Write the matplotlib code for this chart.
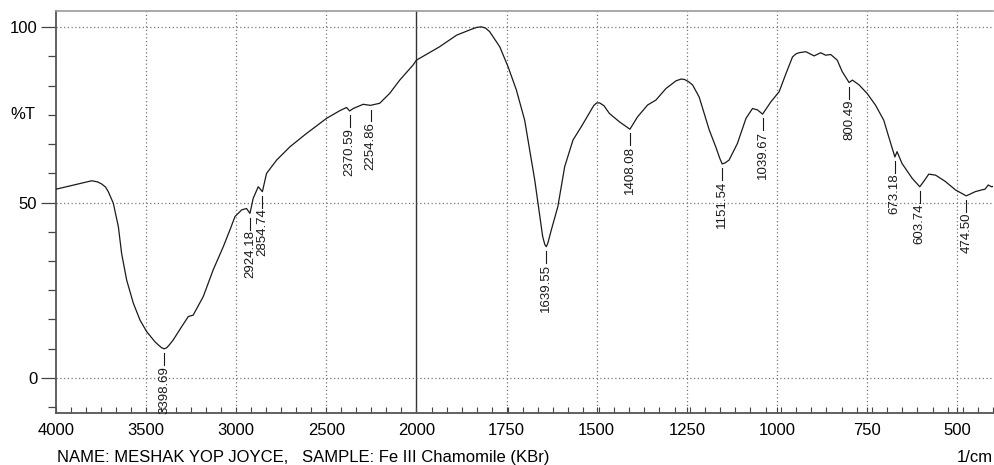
import numpy as np
import matplotlib
matplotlib.use("Agg")
import matplotlib.pyplot as plt

plt.rcParams["font.family"] = ["Liberation Sans", "DejaVu Sans"]

# Spectre IR (nombre d'onde en cm-1, transmittance en %)
wavenumber = [4000, 3802, 3770, 3747, 3725, 3710, 3695, 3682, 3654, 3636, 3608, 3571,
              3534, 3497, 3451, 3430, 3414, 3399, 3386, 3370, 3350, 3303, 3266, 3239,
              3183, 3128, 3072, 3035, 3007, 2970, 2943, 2924, 2906, 2878, 2855, 2832,
              2776, 2702, 2610, 2499, 2425, 2388, 2371, 2351, 2296, 2255, 2204, 2149,
              2093, 2019, 2000, 1936, 1889, 1850, 1834, 1820, 1808, 1797, 1769, 1746,
              1723, 1700, 1686, 1672, 1659, 1650, 1644, 1640, 1636, 1626, 1608, 1589,
              1566, 1543, 1520, 1508, 1500, 1492, 1480, 1465, 1437, 1408, 1387, 1359,
              1336, 1308, 1280, 1266, 1257, 1246, 1234, 1216, 1202, 1188, 1170, 1158,
              1152, 1144, 1133, 1110, 1086, 1068, 1054, 1040, 1017, 994, 975, 957, 947,
              939, 920, 897, 879, 865, 851, 833, 819, 800, 791, 773, 750, 727, 704,
              690, 673, 667, 653, 625, 604, 593, 579, 560, 533, 505, 475, 450, 432,
              423, 414, 405, 400]
transmittance = [53.8, 56.2, 55.9, 55.3, 54.4, 53.1, 51.3, 49.8, 43.1, 35.5, 27.9, 21.3,
                 16.5, 13.2, 10.3, 9.3, 8.6, 8.3, 8.6, 9.5, 10.8, 14.6, 17.5, 17.9,
                 23.2, 30.8, 37.4, 42.2, 46.0, 47.9, 48.3, 46.9, 51.2, 54.5, 53.1, 58.3,
                 62.1, 65.9, 69.7, 74.0, 76.2, 77.1, 76.1, 76.8, 78.0, 77.7, 78.3, 81.1,
                 84.9, 89.2, 90.6, 94.4, 97.7, 99.3, 99.9, 100.1, 99.7, 98.7, 94.4, 88.7,
                 82.1, 73.5, 65.0, 56.4, 46.9, 40.3, 38.0, 37.4, 38.3, 42.2, 48.8, 60.2,
                 67.8, 71.6, 75.6, 77.7, 78.4, 78.4, 77.6, 75.4, 73.0, 70.9, 74.4, 77.8,
                 79.2, 82.5, 84.7, 85.2, 85.1, 84.5, 83.5, 80.1, 75.4, 70.7, 65.9, 62.4,
                 61.0, 61.3, 62.1, 66.8, 74.0, 76.8, 76.4, 75.2, 78.7, 81.6, 86.8, 91.5, 92.4,
                 92.7, 93.0, 91.8, 92.7, 92.0, 92.2, 90.6, 87.3, 84.2, 84.9, 83.6, 81.1,
                 77.8, 73.5, 68.7, 63.0, 64.5, 61.1, 56.9, 54.5, 56.0, 58.1, 57.8, 56.0,
                 53.6, 51.9, 53.1, 53.6, 53.8, 55.0, 54.5, 54.6]

# Pics annotés
peak_labels = ["3398.69", "2924.18", "2854.74", "2370.59", "2254.86", "1639.55", "1408.08",
               "1151.54", "1039.67", "800.49", "673.18", "603.74", "474.50"]
peak_wn = [3398.69, 2924.18, 2854.74, 2370.59, 2254.86, 1639.55, 1408.08,
           1151.54, 1039.67, 800.49, 673.18, 603.74, 474.50]
peak_t = [8.3, 46.9, 53.1, 76.1, 77.7, 37.4, 70.9, 61.0, 75.2, 84.2, 63.0, 54.5, 51.9]

x_major = [4000, 3500, 3000, 2500, 2000, 1750, 1500, 1250, 1000, 750, 500]
y_major = [0, 50, 100]


# Échelle brisée à 2000 cm-1 : la partie basse est deux fois plus dilatée.
def _fwd(w):
    w = np.asarray(w, dtype=float)
    return np.where(w >= 2000, 2000 + (w - 2000) * 0.5, w)


def _inv(u):
    u = np.asarray(u, dtype=float)
    return np.where(u >= 2000, 2000 + (u - 2000) * 2.0, u)


fig = plt.figure(figsize=(9.94, 4.65), dpi=100)
ax = fig.add_axes([56 / 994, 52 / 465, 937.3 / 994, 402 / 465])
ax.set_xscale("function", functions=(_fwd, _inv))
ax.set_xlim(4000, 400)
ax.set_ylim(-10, 104.6)

ax.plot(wavenumber, transmittance, color="#1a1a1a", linewidth=0.9, zorder=3,
        solid_joinstyle="round")

# Grille pointillée + trait plein à la rupture d'échelle
for x in x_major[1:]:
    if x == 2000:
        ax.axvline(x, color="#333333", linewidth=1.0, zorder=1)
    else:
        ax.axvline(x, color="#777777", linewidth=0.9, linestyle=(0, (1, 2)), zorder=1)
for y in y_major:
    ax.axhline(y, color="#777777", linewidth=0.9, linestyle=(0, (1, 2)), zorder=1)

ax.set_xticks(x_major)
ax.set_xticklabels([str(x) for x in x_major])
minor_x = list(np.linspace(4000, 2000, 25)) + list(np.linspace(2000, 400, 39))
ax.set_xticks(minor_x, minor=True)
ax.tick_params(axis="x", which="both", direction="in", length=4, width=0.8,
               color="#444444", labelsize=12, pad=7.5)

ax.set_yticks(y_major)
ax.set_yticklabels([str(y) for y in y_major])
ax.set_yticks(np.arange(-100 / 12, 104, 100 / 12), minor=True)
ax.tick_params(axis="y", which="major", direction="out", length=11, width=0.9,
               color="#444444", labelsize=12, pad=2.5)
ax.tick_params(axis="y", which="minor", direction="out", length=5.8, width=0.9,
               color="#444444")
ax.text(-0.0215, 75, "%T", transform=ax.get_yaxis_transform(), ha="right",
        va="center", fontsize=12)

for side in ("left", "bottom"):
    ax.spines[side].set_color("#555555")
    ax.spines[side].set_linewidth(1.3)
ax.spines["top"].set_color("#999999")
ax.spines["top"].set_linewidth(1.2)
ax.spines["right"].set_visible(False)

# Étiquettes des pics : petit trait puis valeur verticale
for lab, w, t in zip(peak_labels, peak_wn, peak_t):
    y0 = t - 1.2
    y1 = y0 - 3.4
    ax.plot([w, w], [y0, y1], color="#1a1a1a", linewidth=0.8, zorder=3)
    ax.text(w, y1 - 0.2, lab, rotation=90, ha="center", va="top", fontsize=9.5,
            color="#1a1a1a", zorder=3)

fig.text(57 / 994, 1 - 457 / 465, "NAME: MESHAK YOP JOYCE,   SAMPLE: Fe III Chamomile (KBr)",
         ha="left", va="center", fontsize=12)
fig.text(993 / 994, 1 - 457 / 465, "1/cm", ha="right", va="center", fontsize=12)

fig.savefig("out.png", dpi=100, facecolor="white")
plt.close(fig)
